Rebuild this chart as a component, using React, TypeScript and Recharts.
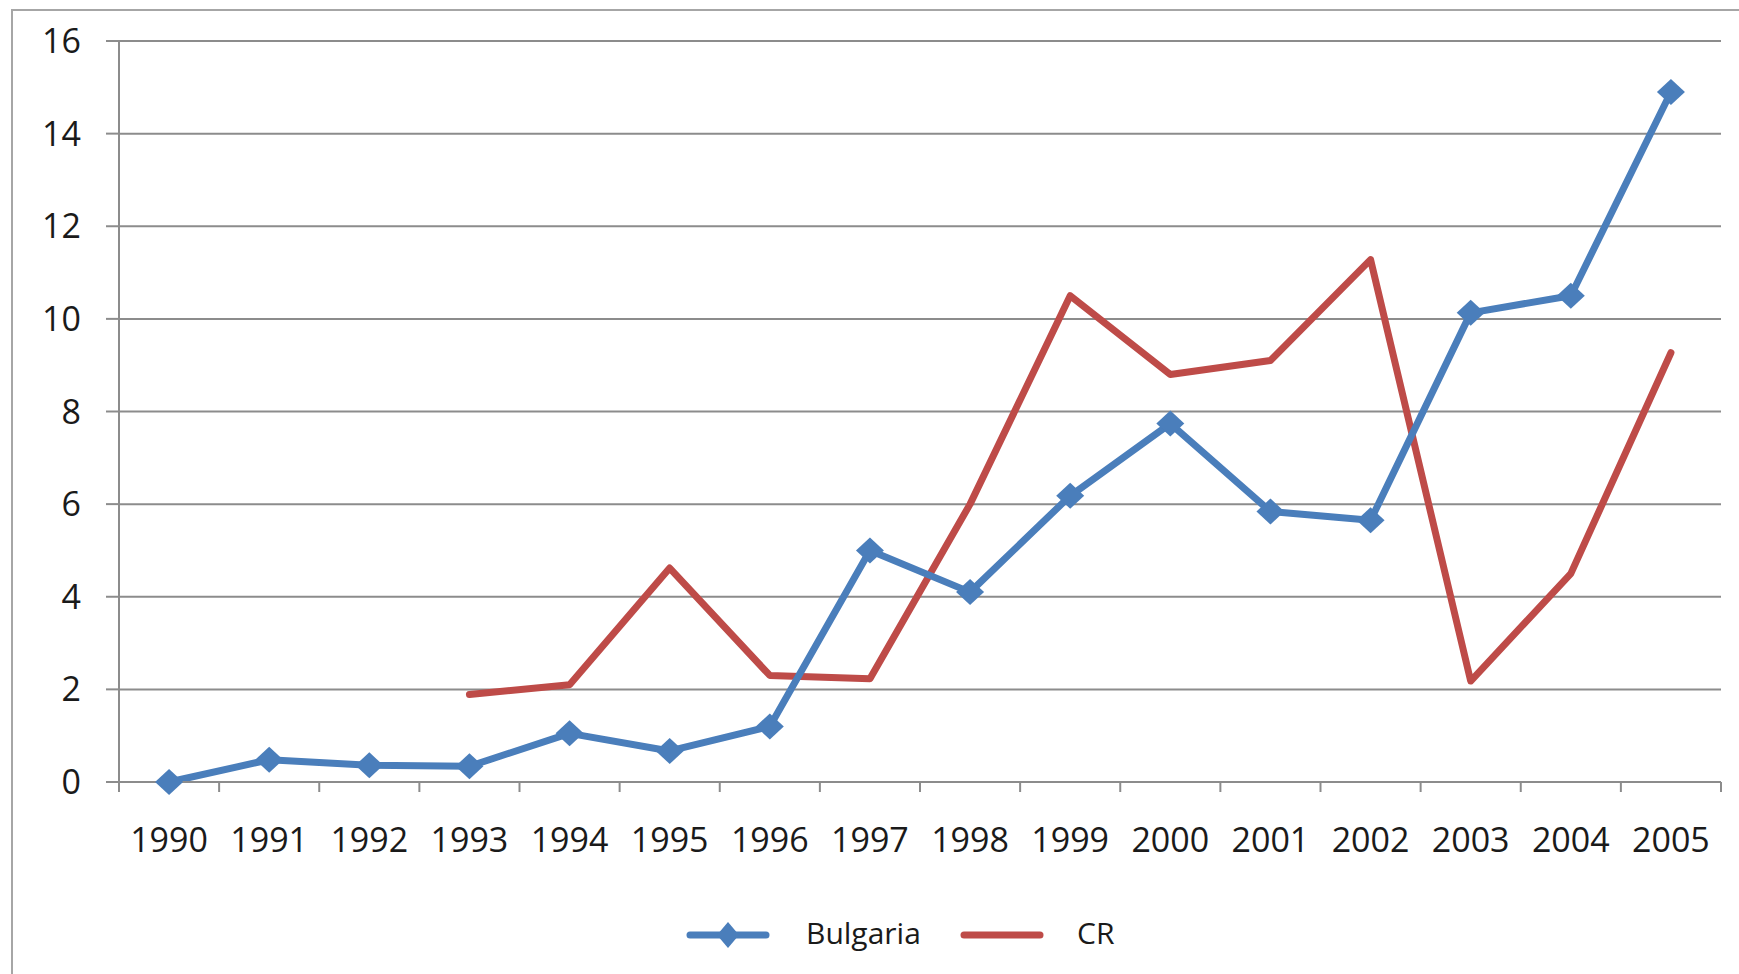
import React from 'react';
import { LineChart, Line, XAxis, YAxis, CartesianGrid, Legend } from 'recharts';

const YEARS = ['1990', '1991', '1992', '1993', '1994', '1995', '1996', '1997', '1998', '1999', '2000', '2001', '2002', '2003', '2004', '2005'];
const BULGARIA = [0, 0.48, 0.36, 0.34, 1.05, 0.67, 1.2, 5.0, 4.1, 6.18, 7.74, 5.84, 5.65, 10.13, 10.5, 14.9];
const CR: (number | null)[] = [null, null, null, 1.89, 2.1, 4.62, 2.3, 2.23, 6.0, 10.5, 8.8, 9.1, 11.28, 2.18, 4.5, 9.27];
const Y_TICKS = [0, 2, 4, 6, 8, 10, 12, 14, 16];

const data = YEARS.map((year, i) => ({ year, Bulgaria: BULGARIA[i], CR: CR[i] }));

const W = 1739;
const H = 974;
const MARGIN = { top: 41, right: 18, left: 0, bottom: 19 };
const Y_AXIS_W = 119;
const PLOT_W = W - MARGIN.left - MARGIN.right - Y_AXIS_W;
const HALF = PLOT_W / YEARS.length / 2;

const BLUE = '#4a7ebb';
const RED = '#be4b48';
const GRID = '#8c8c8c';
const FONT = '"Open Sans", sans-serif';
const TEXT = '#1a1a1a';

const Diamond = (props: any) => {
  const { cx, cy, index } = props;
  if (cx == null || cy == null) return <g key={`d-${index}`} />;
  return (
    <polygon
      key={`d-${index}`}
      points={`${cx},${cy - 13} ${cx + 14},${cy} ${cx},${cy + 13} ${cx - 14},${cy}`}
      fill={BLUE}
    />
  );
};

const YearTick = (props: any) => {
  const { x, y, payload, index } = props;
  const last = index === YEARS.length - 1;
  return (
    <g>
      <line x1={x - HALF} y1={y} x2={x - HALF} y2={y + 10} stroke={GRID} strokeWidth={2} />
      {last && <line x1={x + HALF} y1={y} x2={x + HALF} y2={y + 10} stroke={GRID} strokeWidth={2} />}
      <text x={x} y={y + 70} textAnchor="middle" fontFamily={FONT} fontSize={34} fill={TEXT}>
        {payload.value}
      </text>
    </g>
  );
};

const LegendContent = () => (
  <div style={{ position: 'relative', width: W, height: 40, fontFamily: FONT, fontSize: 30, color: TEXT }}>
    <svg style={{ position: 'absolute', left: 686, top: 6 }} width={84} height={28}>
      <line x1={4} y1={14} x2={80} y2={14} stroke={BLUE} strokeWidth={7} strokeLinecap="round" />
      <polygon points="42,1 53,14 42,27 31,14" fill={BLUE} />
    </svg>
    <span style={{ position: 'absolute', left: 806, top: -2, lineHeight: '40px' }}>Bulgaria</span>
    <svg style={{ position: 'absolute', left: 960, top: 6 }} width={84} height={28}>
      <line x1={4} y1={14} x2={80} y2={14} stroke={RED} strokeWidth={7} strokeLinecap="round" />
    </svg>
    <span style={{ position: 'absolute', left: 1077, top: -2, lineHeight: '40px' }}>CR</span>
  </div>
);

export default function App() {
  return (
    <div style={{ position: 'absolute', left: 0, top: 0, width: W, height: H, background: '#fff', overflow: 'hidden' }}>
      <div
        style={{
          position: 'absolute',
          left: 11,
          top: 9,
          width: W,
          height: H,
          borderLeft: '2px solid #a6a6a6',
          borderTop: '2px solid #a6a6a6',
        }}
      />
      <LineChart width={W} height={H} data={data} margin={MARGIN}>
        <CartesianGrid vertical={false} stroke={GRID} strokeWidth={2} />
        <XAxis
          dataKey="year"
          scale="band"
          height={133}
          axisLine={{ stroke: GRID, strokeWidth: 2 }}
          tickLine={false}
          tickSize={0}
          tickMargin={0}
          interval={0}
          tick={<YearTick />}
        />
        <YAxis
          width={Y_AXIS_W}
          domain={[0, 16]}
          ticks={Y_TICKS}
          interval={0}
          axisLine={{ stroke: GRID, strokeWidth: 2 }}
          tickLine={{ stroke: GRID, strokeWidth: 2 }}
          tickSize={13}
          tickMargin={25}
          tick={{ fontFamily: FONT, fontSize: 34, fill: TEXT }}
        />
        <Legend
          verticalAlign="bottom"
          content={<LegendContent />}
          wrapperStyle={{ left: 0, width: W, height: 40, bottom: MARGIN.bottom }}
        />
        <Line
          dataKey="CR"
          stroke={RED}
          strokeWidth={7}
          strokeLinecap="round"
          strokeLinejoin="round"
          dot={false}
          activeDot={false}
          isAnimationActive={false}
        />
        <Line
          dataKey="Bulgaria"
          stroke={BLUE}
          strokeWidth={7}
          strokeLinecap="round"
          strokeLinejoin="round"
          dot={Diamond}
          activeDot={false}
          isAnimationActive={false}
        />
      </LineChart>
    </div>
  );
}
